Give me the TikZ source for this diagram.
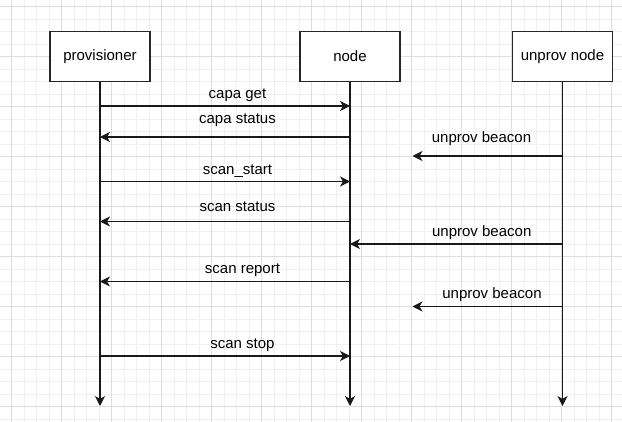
\documentclass[tikz,border=0pt]{standalone}
\usepackage{fontspec}
\setmainfont{Liberation Sans}
\usetikzlibrary{arrows.meta}

\begin{document}
\begin{tikzpicture}[x=1pt,y=-1pt,
    actor/.style={
% The shape:
rectangle,
% The size:
minimum height=50pt,
minimum width=100pt,
% The border:
draw=black!85, fill=white, line width=1.1pt,
font=\fontsize{15}{18}\selectfont
},
    msg/.style={
% The line:
line width=1.1pt, draw=black!90,
-{Stealth[length=10pt,width=10pt,inset=3pt]}
},
    lbl/.style={anchor=base, inner sep=0pt, font=\fontsize{15}{18}\selectfont},
    minorgrid/.style={black!6, line width=.8pt},
    majorgrid/.style={black!13, line width=.8pt},
]
  \useasboundingbox[fill=white] (0,0) rectangle (622,422);

  % background grid
  \foreach \i in {0,...,50}
    \draw[minorgrid] (\i*12.5-0.8,0) -- (\i*12.5-0.8,422);
  \foreach \i in {0,...,34}
    \draw[minorgrid] (0,\i*12.5-6) -- (622,\i*12.5-6);
  \foreach \i in {0,...,12}
    \draw[majorgrid] (\i*50+11.7,0) -- (\i*50+11.7,422);
  \foreach \i in {0,...,8}
    \draw[majorgrid] (0,\i*50+6.5) -- (622,\i*50+6.5);

  % actors
  \node[actor] (prov) at (100,56.5)   {provisioner};
  \node[actor] (nd)   at (350,56.5)   {node};
  \node[actor] (unp)  at (562.5,56.5) {unprov node};

  % lifelines
  \draw[msg] (prov) -- (prov |- 0,406);
  \draw[msg] (nd)   -- (nd |- 0,406);
  \draw[msg] (unp)  -- (unp |- 0,406);

  % free ends of the beacons
  \coordinate (bcnA) at (412.5,156);
  \coordinate (bcnB) at (412.5,306.5);

  % messages
  \draw[msg] (prov |- 0,106)   -- node[lbl,pos=.55,yshift=7.7pt] {capa get}       (nd |- 0,106);
  \draw[msg] (nd |- 0,137)     -- node[lbl,pos=.45,yshift=13pt]  {capa status}    (prov |- 0,137);
  \draw[msg] (unp |- bcnA)     -- node[lbl,pos=.54,yshift=13pt]  {unprov beacon}  (bcnA);
  \draw[msg] (prov |- 0,181.5) -- node[lbl,pos=.55,yshift=7.4pt] {scan\_start}    (nd |- 0,181.5);
  \draw[msg] (nd |- 0,221.5)   -- node[lbl,pos=.45,yshift=10pt]  {scan status}    (prov |- 0,221.5);
  \draw[msg] (unp |- 0,244)    -- node[lbl,pos=.38,yshift=7.3pt] {unprov beacon}  (nd |- 0,244);
  \draw[msg] (nd |- 0,281.5)   -- node[lbl,pos=.43,yshift=8.4pt] {scan report}    (prov |- 0,281.5);
  \draw[msg] (unp |- bcnB)     -- node[lbl,pos=.47,yshift=8.4pt] {unprov beacon}  (bcnB);
  \draw[msg] (prov |- 0,356)   -- node[lbl,pos=.57,yshift=7.7pt] {scan stop}      (nd |- 0,356);
\end{tikzpicture}
\end{document}
